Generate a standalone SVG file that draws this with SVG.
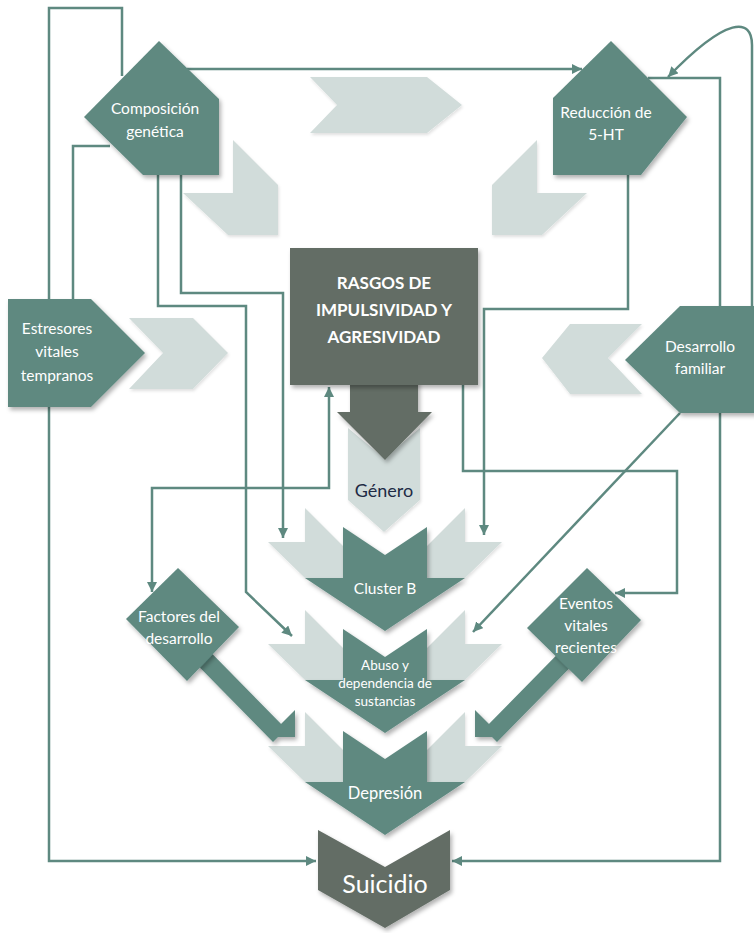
<svg xmlns="http://www.w3.org/2000/svg" width="754" height="933" viewBox="0 0 754 933">
<style>
.teal{fill:#5E8980;filter:url(#sh);}
.dark{fill:#636D65;filter:url(#sh);}
.gray{fill:#D1DCDA;filter:url(#shl);}
.t{font-family:Lato,"Open Sans",sans-serif;font-size:15.5px;fill:#FFFFFF;text-anchor:middle;}
.tb{font-family:Lato,"Open Sans",sans-serif;font-size:17px;font-weight:bold;fill:#FFFFFF;text-anchor:middle;}
.con{fill:none;stroke:#5E8980;stroke-width:2.5;}
</style>
<defs>
<filter id="sh" x="-20%" y="-20%" width="150%" height="150%">
<feDropShadow dx="2" dy="3" stdDeviation="2" flood-color="#000000" flood-opacity="0.3"/>
</filter>
<filter id="shl" x="-20%" y="-20%" width="150%" height="150%">
<feDropShadow dx="1" dy="2" stdDeviation="1.5" flood-color="#000000" flood-opacity="0.12"/>
</filter>
<marker id="ah" viewBox="0 0 10 10" refX="10" refY="5" markerWidth="10" markerHeight="10" markerUnits="userSpaceOnUse" orient="auto-start-reverse">
<path d="M0,0 L10,5 L0,10 Z" fill="#5E8980"/>
</marker>
<path id="gl" d="M305,508 L343,546 L343,578 L305,578 L268,542 L305,542 Z"/>
<path id="gr" d="M465,508 L427,546 L427,578 L465,578 L502,542 L465,542 Z"/>
<path id="tc" d="M343,527 L385,555 L427,527 L427,578 L465,578 L385,631 L305,578 L343,578 Z"/>
</defs>

<g id="decor">
<polygon class="gray" points="310,77 427,77 462,105 427,133 310,133 337,105"/>
<polygon class="gray" points="233,140 278,185 278,235 228,235 183,193 233,193"/>
<polygon class="gray" points="537,140 492,185 492,235 542,235 587,193 537,193"/>
<polygon class="gray" points="129,318 193,318 228,353 193,389 129,389 163,353"/>
<polygon class="gray" points="642,324 570,324 542,358 570,394 642,394 608,358"/>
</g>

<g id="connectors">
<path class="con" d="M122,76 L122,8 L49,8 L49,861 L316,861" marker-end="url(#ah)"/>
<path class="con" d="M110,146 L73,146 L73,299"/>
<path class="con" d="M158,175 L158,306 L246,306 L246,592 L292,636" marker-end="url(#ah)"/>
<path class="con" d="M181,175 L181,293 L283,293 L283,538" marker-end="url(#ah)"/>
<path class="con" d="M187,69 L582,69" marker-end="url(#ah)"/>
<path class="con" d="M752,306 L752,45 C752,18 728,15 668,77" marker-end="url(#ah)"/>
<path class="con" d="M648,78 L720,78 L720,861 L452,861" marker-end="url(#ah)"/>
<path class="con" d="M628,175 L628,309 L484,309 L484,535" marker-end="url(#ah)"/>
<path class="con" d="M463,385 L463,471 L677,471 L677,593 L615,593" marker-end="url(#ah)"/>
<path class="con" d="M152,592 L152,488 L329,488 L329,387" marker-start="url(#ah)" marker-end="url(#ah)"/>
<path class="con" d="M680,413 L473,632" marker-end="url(#ah)"/>
</g>

<g id="composicion-genetica">
<polygon class="teal" points="159,41 219,99 219,175 143,175 84,117"/>
<text class="t" x="155" y="114">Composición</text>
<text class="t" x="155" y="137">genética</text>
</g>

<g id="reduccion-5ht">
<polygon class="teal" points="611,41 687,117 641,175 553,175 553,98"/>
<text class="t" x="606" y="118">Reducción de</text>
<text class="t" x="606" y="140">5-HT</text>
</g>

<g id="estresores">
<polygon class="teal" points="8,299 91,299 145,353 91,407 8,407"/>
<text class="t" x="57" y="334">Estresores</text>
<text class="t" x="57" y="357">vitales</text>
<text class="t" x="57" y="381">tempranos</text>
</g>

<g id="desarrollo-familiar">
<polygon class="teal" points="625,360 680,306 760,306 760,413 680,413"/>
<text class="t" x="700" y="352">Desarrollo</text>
<text class="t" x="700" y="374">familiar</text>
</g>

<g id="genero">
<path class="gray" d="M348,428 L384,458 L420,428 L420,500 L384,532 L348,500 Z"/>
<text x="384" y="497" style="font-family:Lato,'Open Sans',sans-serif;font-size:18px;fill:#1E2B45;text-anchor:middle;">Género</text>
</g>

<g id="rasgos">
<path class="dark" d="M350,380 L418,380 L418,412 L432,412 L385,460 L337,412 L350,412 Z"/>
<rect class="dark" x="290" y="248" width="188" height="137"/>
<text class="tb" x="384" y="289">RASGOS DE</text>
<text class="tb" x="384" y="316">IMPULSIVIDAD Y</text>
<text class="tb" x="384" y="343">AGRESIVIDAD</text>
</g>

<g id="cluster-b">
<use href="#gl" class="gray"/>
<use href="#gr" class="gray"/>
<use href="#tc" class="teal"/>
<text class="t" x="385" y="594">Cluster B</text>
</g>

<g id="abuso">
<use href="#gl" class="gray" transform="translate(0,102)"/>
<use href="#gr" class="gray" transform="translate(0,102)"/>
<use href="#tc" class="teal" transform="translate(0,102)"/>
<text class="t" x="385" y="670" style="font-size:13.5px">Abuso y</text>
<text class="t" x="385" y="688" style="font-size:13.5px">dependencia de</text>
<text class="t" x="385" y="706" style="font-size:13.5px">sustancias</text>
</g>

<g id="depresion">
<use href="#gl" class="gray" transform="translate(0,204)"/>
<use href="#gr" class="gray" transform="translate(0,204)"/>
<use href="#tc" class="teal" transform="translate(0,204)"/>
<text class="t" x="385" y="799" style="font-size:16.5px">Depresión</text>
</g>

<g id="factores-desarrollo">
<path class="teal" d="M176,617 L286,729 L273,742 L163,630 Z M295,710 L295,737 L268,737 Z"/>
<polygon class="teal" points="178,568 239,627 187,681 126,619"/>
<text class="t" x="179" y="622">Factores del</text>
<text class="t" x="179" y="644">desarrollo</text>
</g>

<g id="eventos-vitales">
<path class="teal" d="M594,617 L484,729 L497,742 L607,630 Z M475,710 L475,737 L502,737 Z"/>
<polygon class="teal" points="587,568 641,620 582,682 527,628"/>
<text class="t" x="586" y="609">Eventos</text>
<text class="t" x="586" y="631">vitales</text>
<text class="t" x="586" y="653">recientes</text>
</g>

<g id="suicidio">
<path class="dark" d="M318,830 L385,867 L450,830 L450,890 L385,928 L318,890 Z"/>
<text x="385" y="893" style="font-family:Lato,'Open Sans',sans-serif;font-size:25px;fill:#FFFFFF;text-anchor:middle;">Suicidio</text>
</g>
</svg>
